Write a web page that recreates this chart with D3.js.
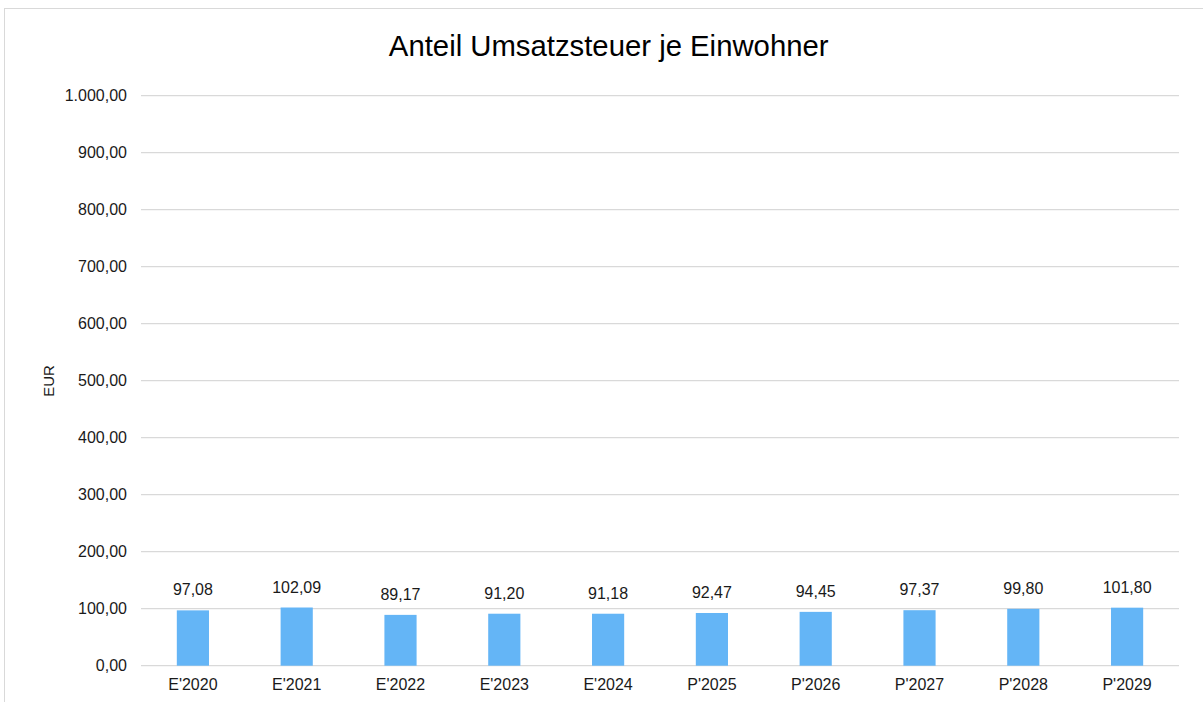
<!DOCTYPE html>
<meta charset="utf-8">
<style>
  body { margin: 0; background: #fff; }
  text { font-family: "Liberation Sans", Arial, sans-serif; }
</style>
<script src="https://d3js.org/d3.v7.min.js"></script>
<div id="chart"></div>
<script>
var categories = ["E'2020", "E'2021", "E'2022", "E'2023", "E'2024", "P'2025", "P'2026", "P'2027", "P'2028", "P'2029"];
var values = [97.08, 102.09, 89.17, 91.20, 91.18, 92.47, 94.45, 97.37, 99.80, 101.80];
var yTicks = [0, 100, 200, 300, 400, 500, 600, 700, 800, 900, 1000];

var W = 1203, H = 702;
var margin = {top: 95.7, left: 141, right: 24, bottom: 36.3};

var svg = d3.select("#chart").append("svg")
  .attr("width", W)
  .attr("height", H);

// outer chart frame (runs off the right and bottom edge)
svg.append("rect")
  .attr("x", 4.5).attr("y", 8.5)
  .attr("width", W + 20).attr("height", H + 20)
  .attr("fill", "none")
  .attr("stroke", "#d9d9d9")
  .attr("stroke-width", 1);

var fmt = function(v) {
  return v.toLocaleString("de-DE", {minimumFractionDigits: 2, maximumFractionDigits: 2});
};

var x = d3.scaleBand()
  .domain(categories)
  .range([margin.left, W - margin.right])
  .paddingInner(0.69)
  .paddingOuter(0.345);

var y = d3.scaleLinear()
  .domain([0, 1000])
  .range([H - margin.bottom, margin.top]);

// gridlines
svg.append("g")
  .selectAll("line")
  .data(yTicks)
  .join("line")
    .attr("x1", margin.left)
    .attr("x2", W - margin.right)
    .attr("y1", function(d) { return y(d); })
    .attr("y2", function(d) { return y(d); })
    .attr("stroke", "#d9d9d9")
    .attr("stroke-width", 1.3);

// y axis labels
var yAxis = svg.append("g")
  .attr("transform", "translate(" + margin.left + ",0)")
  .call(d3.axisLeft(y).tickValues(yTicks).tickFormat(fmt).tickSize(0).tickPadding(14));
yAxis.select(".domain").remove();
yAxis.selectAll("text")
  .attr("fill", "#1a1a1a")
  .style("font-size", "16px");

// x axis labels
var xAxis = svg.append("g")
  .attr("transform", "translate(0," + y(0) + ")")
  .call(d3.axisBottom(x).tickSize(0).tickPadding(13));
xAxis.select(".domain").remove();
xAxis.selectAll("text")
  .attr("fill", "#1a1a1a")
  .style("font-size", "16px");

// bars
svg.append("g")
  .selectAll("rect")
  .data(values)
  .join("rect")
    .attr("x", function(d, i) { return x(categories[i]); })
    .attr("y", function(d) { return y(d); })
    .attr("width", x.bandwidth())
    .attr("height", function(d) { return y(0) - y(d); })
    .attr("fill", "#64b5f6");

// value labels
svg.append("g")
  .selectAll("text")
  .data(values)
  .join("text")
    .attr("x", function(d, i) { return x(categories[i]) + x.bandwidth() / 2; })
    .attr("y", function(d) { return y(d) - 15; })
    .attr("text-anchor", "middle")
    .attr("fill", "#1a1a1a")
    .style("font-size", "16px")
    .text(fmt);

// title
svg.append("text")
  .attr("x", 608.7)
  .attr("y", 55.7)
  .attr("text-anchor", "middle")
  .attr("fill", "#000")
  .style("font-size", "29.3px")
  .text("Anteil Umsatzsteuer je Einwohner");

// y axis title
svg.append("text")
  .attr("transform", "translate(54,381) rotate(-90)")
  .attr("text-anchor", "middle")
  .attr("fill", "#1a1a1a")
  .style("font-size", "15px")
  .text("EUR");
</script>
